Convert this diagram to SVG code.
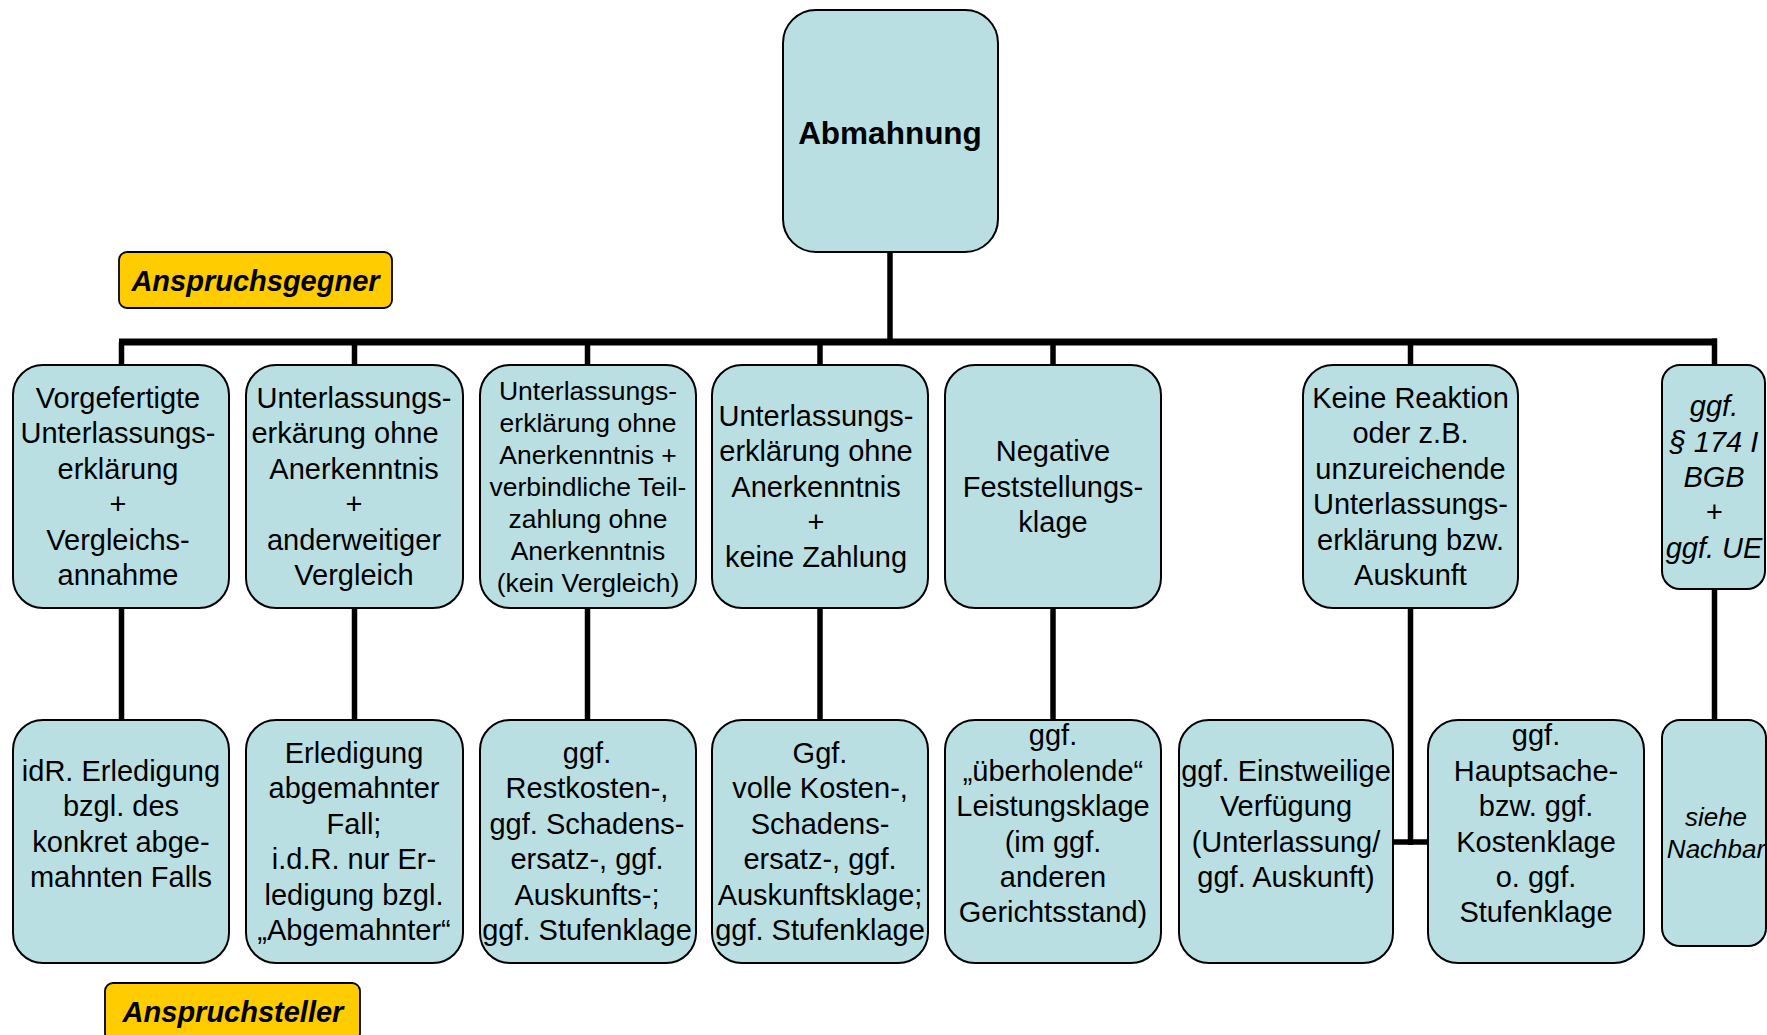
<svg xmlns="http://www.w3.org/2000/svg" width="1767" height="1035" viewBox="0 0 1767 1035">
<style>
.box{fill:#B9DFE3;stroke:#000;stroke-width:2}
.lab{fill:#FFCC00;stroke:#000;stroke-width:1.8}
.t{font-family:"Liberation Sans",Arial,sans-serif;font-size:29px;fill:#000;text-anchor:middle}
.s{font-size:26.5px}
.i{font-style:italic}
.b{font-weight:bold}
.c{stroke:#000;fill:none;stroke-width:5.5}
.bus{stroke:#000;fill:none;stroke-width:7}
</style>
<rect x="0" y="0" width="1767" height="1035" fill="#fff"/>
<g id="connectors">
<line class="c" x1="890" y1="252" x2="890" y2="342"/>
<line class="bus" x1="119" y1="342" x2="1717" y2="342"/>
<line class="c" x1="121.5" y1="342" x2="121.5" y2="365"/>
<line class="c" x1="354.5" y1="342" x2="354.5" y2="365"/>
<line class="c" x1="587.5" y1="342" x2="587.5" y2="365"/>
<line class="c" x1="820" y1="342" x2="820" y2="365"/>
<line class="c" x1="1053" y1="342" x2="1053" y2="365"/>
<line class="c" x1="1410.5" y1="342" x2="1410.5" y2="365"/>
<line class="c" x1="1714.5" y1="338.5" x2="1714.5" y2="365"/>
<line class="c" x1="121.5" y1="608" x2="121.5" y2="720"/>
<line class="c" x1="354.5" y1="608" x2="354.5" y2="720"/>
<line class="c" x1="587.5" y1="608" x2="587.5" y2="720"/>
<line class="c" x1="820" y1="608" x2="820" y2="720"/>
<line class="c" x1="1053" y1="608" x2="1053" y2="720"/>
<line class="c" x1="1410.5" y1="608" x2="1410.5" y2="845"/>
<line class="c" x1="1393" y1="842" x2="1428" y2="842"/>
<line class="c" x1="1714.5" y1="589" x2="1714.5" y2="720"/>
</g>
<g id="abmahnung">
<rect class="box" x="783" y="10" width="215" height="242" rx="33"/>
<text class="t b" x="890" y="144" style="font-size:31.5px">Abmahnung</text>
</g>
<g id="anspruchsgegner">
<rect class="lab" x="119" y="252" width="273" height="56" rx="8"/>
<text class="t b i" x="255.5" y="291">Anspruchsgegner</text>
</g>
<g id="anspruchsteller">
<rect class="lab" x="105" y="983" width="255" height="58" rx="8"/>
<text class="t b i" x="233" y="1022">Anspruchsteller</text>
</g>
<g id="n1">
<rect class="box" x="13" y="365" width="216" height="243" rx="30"/>
<text class="t" y="408"><tspan x="118">Vorgefertigte</tspan><tspan x="118" dy="35.4">Unterlassungs-</tspan><tspan x="118" dy="35.4">erklärung</tspan><tspan x="118" dy="35.4">+</tspan><tspan x="118" dy="35.4">Vergleichs-</tspan><tspan x="118" dy="35.4">annahme</tspan></text>
</g>
<g id="n2">
<rect class="box" x="246" y="365" width="217" height="243" rx="30"/>
<text class="t" y="408"><tspan x="354">Unterlassungs-</tspan><tspan x="345" dy="35.4">erkärung ohne</tspan><tspan x="354" dy="35.4">Anerkenntnis</tspan><tspan x="354" dy="35.4">+</tspan><tspan x="354" dy="35.4">anderweitiger</tspan><tspan x="354" dy="35.4">Vergleich</tspan></text>
</g>
<g id="n3">
<rect class="box" x="480" y="365" width="216" height="243" rx="30"/>
<text class="t s" y="400.3"><tspan x="588">Unterlassungs-</tspan><tspan x="588" dy="31.9">erklärung ohne</tspan><tspan x="588" dy="31.9">Anerkenntnis +</tspan><tspan x="588" dy="31.9">verbindliche Teil-</tspan><tspan x="588" dy="31.9">zahlung ohne</tspan><tspan x="588" dy="31.9">Anerkenntnis</tspan><tspan x="588" dy="31.9">(kein Vergleich)</tspan></text>
</g>
<g id="n4">
<rect class="box" x="712" y="365" width="216" height="243" rx="30"/>
<text class="t" y="425.7"><tspan x="816">Unterlassungs-</tspan><tspan x="816" dy="35.4">erklärung ohne</tspan><tspan x="816" dy="35.4">Anerkenntnis</tspan><tspan x="816" dy="35.4">+</tspan><tspan x="816" dy="35.4">keine Zahlung</tspan></text>
</g>
<g id="n5">
<rect class="box" x="945" y="365" width="216" height="243" rx="30"/>
<text class="t" y="461.1"><tspan x="1053">Negative</tspan><tspan x="1053" dy="35.4">Feststellungs-</tspan><tspan x="1053" dy="35.4">klage</tspan></text>
</g>
<g id="n6">
<rect class="box" x="1303" y="365" width="215" height="243" rx="30"/>
<text class="t" y="408"><tspan x="1410.5">Keine Reaktion</tspan><tspan x="1410.5" dy="35.4">oder z.B.</tspan><tspan x="1410.5" dy="35.4">unzureichende</tspan><tspan x="1410.5" dy="35.4">Unterlassungs-</tspan><tspan x="1410.5" dy="35.4">erklärung bzw.</tspan><tspan x="1410.5" dy="35.4">Auskunft</tspan></text>
</g>
<g id="n7">
<rect class="box" x="1662" y="365" width="103" height="224" rx="18"/>
<text class="t i" y="416.2"><tspan x="1714">ggf.</tspan><tspan x="1714" dy="35.4">§ 174 I</tspan><tspan x="1714" dy="35.4">BGB</tspan><tspan x="1714" dy="35.4">+</tspan><tspan x="1714" dy="35.4">ggf. UE</tspan></text>
</g>
<g id="b1">
<rect class="box" x="13" y="720" width="216" height="243" rx="30"/>
<text class="t" y="780.7"><tspan x="121">idR. Erledigung</tspan><tspan x="121" dy="35.4">bzgl. des</tspan><tspan x="121" dy="35.4">konkret abge-</tspan><tspan x="121" dy="35.4">mahnten Falls</tspan></text>
</g>
<g id="b2">
<rect class="box" x="246" y="720" width="217" height="243" rx="30"/>
<text class="t" y="763"><tspan x="354">Erledigung</tspan><tspan x="354" dy="35.4">abgemahnter</tspan><tspan x="354" dy="35.4">Fall;</tspan><tspan x="354" dy="35.4">i.d.R. nur Er-</tspan><tspan x="354" dy="35.4">ledigung bzgl.</tspan><tspan x="354" dy="35.4">„Abgemahnter“</tspan></text>
</g>
<g id="b3">
<rect class="box" x="480" y="720" width="216" height="243" rx="30"/>
<text class="t" y="763"><tspan x="587">ggf.</tspan><tspan x="587" dy="35.4">Restkosten-,</tspan><tspan x="587" dy="35.4">ggf. Schadens-</tspan><tspan x="587" dy="35.4">ersatz-, ggf.</tspan><tspan x="587" dy="35.4">Auskunfts-;</tspan><tspan x="587" dy="35.4">ggf. Stufenklage</tspan></text>
</g>
<g id="b4">
<rect class="box" x="712" y="720" width="216" height="243" rx="30"/>
<text class="t" y="763"><tspan x="820">Ggf.</tspan><tspan x="820" dy="35.4">volle Kosten-,</tspan><tspan x="820" dy="35.4">Schadens-</tspan><tspan x="820" dy="35.4">ersatz-, ggf.</tspan><tspan x="820" dy="35.4">Auskunftsklage;</tspan><tspan x="820" dy="35.4">ggf. Stufenklage</tspan></text>
</g>
<g id="b5">
<rect class="box" x="945" y="720" width="216" height="243" rx="30"/>
<text class="t" y="745.3"><tspan x="1053">ggf.</tspan><tspan x="1053" dy="35.4">„überholende“</tspan><tspan x="1053" dy="35.4">Leistungsklage</tspan><tspan x="1053" dy="35.4">(im ggf.</tspan><tspan x="1053" dy="35.4">anderen</tspan><tspan x="1053" dy="35.4">Gerichtsstand)</tspan></text>
</g>
<g id="b6">
<rect class="box" x="1179" y="720" width="214" height="243" rx="30"/>
<text class="t" y="780.7"><tspan x="1286">ggf. Einstweilige</tspan><tspan x="1286" dy="35.4">Verfügung</tspan><tspan x="1286" dy="35.4">(Unterlassung/</tspan><tspan x="1286" dy="35.4">ggf. Auskunft)</tspan></text>
</g>
<g id="b7">
<rect class="box" x="1428" y="720" width="216" height="243" rx="30"/>
<text class="t" y="745.3"><tspan x="1536">ggf.</tspan><tspan x="1536" dy="35.4">Hauptsache-</tspan><tspan x="1536" dy="35.4">bzw. ggf.</tspan><tspan x="1536" dy="35.4">Kostenklage</tspan><tspan x="1536" dy="35.4">o. ggf.</tspan><tspan x="1536" dy="35.4">Stufenklage</tspan></text>
</g>
<g id="b8">
<rect class="box" x="1662" y="720" width="104" height="226" rx="18"/>
<text class="t i" style="font-size:26px" y="826"><tspan x="1716">siehe</tspan><tspan x="1716" dy="32">Nachbar</tspan></text>
</g>
</svg>
